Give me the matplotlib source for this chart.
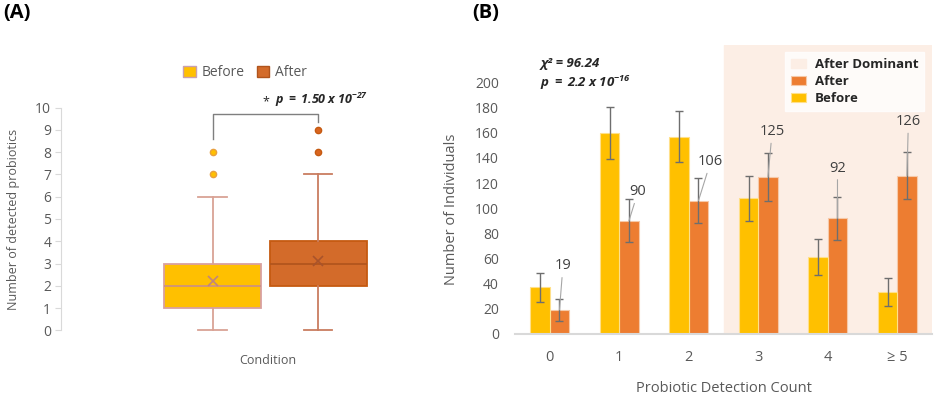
import numpy as np
import matplotlib
matplotlib.use("Agg")
import matplotlib.pyplot as plt
from matplotlib.patches import Patch

plt.rcParams['font.family'] = ['Open Sans', 'DejaVu Sans']
plt.rcParams['mathtext.fontset'] = 'custom'
plt.rcParams['mathtext.bf'] = 'Open Sans:bold:italic'
plt.rcParams['mathtext.it'] = 'Open Sans:bold:italic'
plt.rcParams['mathtext.rm'] = 'Open Sans:bold:italic'

# ---- panel A : box plot summary ----
conditions = ['Before', 'After']
box_q1 = [1, 2]
box_med = [2, 3]
box_q3 = [3, 4]
box_lo = [0, 0]
box_hi = [6, 7]
box_mean = [2.2, 3.1]
box_fliers = [[7, 8], [8, 9]]

# ---- panel B : detection counts ----
categories = ['0', '1', '2', '3', '4', '≥ 5']
before_n = [37, 160, 157, 108, 61, 33]
after_n = [19, 90, 106, 125, 92, 126]
before_err = [11.5, 21, 20.5, 18, 14.5, 11]
after_err = [8.5, 17, 18, 19, 17, 19]

# label placement for the "After" values (offset in x, label height)
lab_dx = [0.05, 0.13, 0.175, 0.06, 0.0, 0.02]
lab_y = [54, 113, 137, 161, 132, 169]

grey = '#595959'
yellow = '#FFC000'
orange = '#ED7D31'

fig = plt.figure(figsize=(9.36, 3.97), dpi=100)

# ================= (A) =================
axA = fig.add_axes([61/936, 66.7/397, 379/936, 222.6/397])
box_style = [
    dict(face=yellow, edge='#D9A0A0', med='#C98F88', whisk='#D9A295',
         mean='#C0857E', fface=yellow, fedge='#E8A040'),
    dict(face='#D36B2A', edge='#C55A11', med='#B0541C', whisk='#C97D60',
         mean='#A9532A', fface='#D9651F', fedge='#C55A11'),
]
for i, c in enumerate(conditions):
    st = box_style[i]
    stats = [dict(med=box_med[i], q1=box_q1[i], q3=box_q3[i],
                  whislo=box_lo[i], whishi=box_hi[i], mean=box_mean[i],
                  fliers=box_fliers[i], label=c)]
    parts = axA.bxp(stats, positions=[i + 1], widths=0.917, capwidths=0.265,
                    showmeans=True, patch_artist=True,
                    boxprops=dict(facecolor=st['face'], edgecolor=st['edge'], linewidth=1.3),
                    medianprops=dict(color=st['med'], linewidth=1.2),
                    whiskerprops=dict(color=st['whisk'], linewidth=1.3),
                    capprops=dict(color=st['whisk'], linewidth=1.3),
                    meanprops=dict(marker='x', markeredgecolor=st['mean'], markersize=7,
                                   markeredgewidth=1.2),
                    flierprops=dict(marker='o', markerfacecolor=st['fface'],
                                    markeredgecolor=st['fedge'], markersize=4.5))
    for k in parts:
        for a in parts[k]:
            a.set_clip_on(False)

axA.set_xlim(-0.432, 3.15)
axA.set_ylim(0, 10)
axA.set_yticks(range(0, 11))
axA.set_xticks([])
for s in ['top', 'right', 'bottom']:
    axA.spines[s].set_visible(False)
axA.spines['left'].set_color('#D9D9D9')
axA.tick_params(axis='y', colors='#D9D9D9', labelcolor=grey, labelsize=10,
                length=4, pad=3)
axA.set_ylabel('Number of detected probiotics', fontsize=9, color=grey)
axA.yaxis.set_label_coords(-0.107, 0.5)
axA.set_xlabel('Condition', fontsize=9, color=grey)
axA.xaxis.set_label_coords(0.546, -0.105)

# significance bracket
axA.plot([1, 1, 2, 2], [8.6, 9.72, 9.72, 9.35], color='#7F7F7F', lw=1, clip_on=False)
axA.text(1.5, 10.28, '*', fontsize=9, color='#262626', ha='center', va='center')
axA.text(1.59, 10.35, r'$\mathbf{p\;=\;1.50\;x\;10^{-27}}$', fontsize=9,
         color='#262626', ha='left', va='center')

fig.legend(handles=[Patch(facecolor=yellow, edgecolor='#C9A0B0', label='Before'),
                    Patch(facecolor='#D36B2A', edgecolor='#B0541C', label='After')],
           loc='center', bbox_to_anchor=(245/936, 1 - 73/397), ncol=2, frameon=False,
           fontsize=10, handlelength=0.9, handleheight=0.9, handletextpad=0.4,
           columnspacing=0.9, labelcolor=grey)

# ================= (B) =================
axB = fig.add_axes([515/936, 63.3/397, 417/936, 288.7/397])
x = np.arange(len(categories))
w = 0.28
span = axB.axvspan(2.5, 5.5, ymin=0, ymax=1, color='#FCEEE5', zorder=0,
                   label='After Dominant')
bA = axB.bar(x + w/2, after_n, w, color=orange, edgecolor='#F6C9A8', linewidth=0.8,
             label='After', zorder=2)
bB = axB.bar(x - w/2, before_n, w, color=yellow, edgecolor='#FFE08A', linewidth=0.8,
             label='Before', zorder=2)
axB.errorbar(x - w/2, before_n, yerr=before_err, fmt='none', ecolor='#6E6E6E',
             elinewidth=1, capsize=3, capthick=1, zorder=3)
axB.errorbar(x + w/2, after_n, yerr=after_err, fmt='none', ecolor='#6E6E6E',
             elinewidth=1, capsize=3, capthick=1, zorder=3)

for i, v in enumerate(after_n):
    axB.annotate(str(v), xy=(x[i] + w/2, v), xytext=(x[i] + w/2 + lab_dx[i], lab_y[i]),
                 ha='center', va='center', fontsize=10.5, color='#404040',
                 arrowprops=dict(arrowstyle='-', color='#A6A6A6', lw=0.8,
                                 shrinkA=1, shrinkB=0), zorder=4)

axB.set_xlim(-0.5, 5.5)
axB.set_ylim(0, 230)
axB.set_yticks(range(0, 201, 20))
axB.set_xticks(x)
axB.set_xticklabels(categories)
for s in ['top', 'right', 'left']:
    axB.spines[s].set_visible(False)
axB.spines['bottom'].set_color('#D9D9D9')
axB.spines['bottom'].set_linewidth(1.5)
axB.tick_params(axis='y', length=0, pad=11.5, labelsize=10, labelcolor=grey)
axB.tick_params(axis='x', length=0, pad=12, labelsize=10.5, labelcolor=grey)
axB.set_ylabel('Number of Individuals', fontsize=10.5, color=grey)
axB.yaxis.set_label_coords(-0.134, 0.43)
axB.set_xlabel('Probiotic Detection Count', fontsize=10.5, color=grey)
axB.xaxis.set_label_coords(0.5, -0.165)

axB.text(-0.135, 215, 'χ² = 96.24', fontsize=9.5, fontweight='bold', style='italic',
         color='#262626', ha='left', va='center')
axB.text(-0.135, 200, r'$\mathbf{p\;=\;2.2\;x\;10^{-16}}$', fontsize=9.5,
         color='#262626', ha='left', va='center')

leg = axB.legend(handles=[span, bA, bB], loc='upper right',
                 bbox_to_anchor=(0.9815, 0.9747), borderaxespad=0, fontsize=9.5,
                 frameon=True, fancybox=False, handlelength=1.1, handleheight=0.6,
                 handletextpad=0.7, labelspacing=0.3, borderpad=0.45)
leg.get_frame().set_facecolor('white')
leg.get_frame().set_edgecolor('white')
for t in leg.get_texts():
    t.set_fontweight('bold')
    t.set_color('#262626')

fig.text(3/936, 1 - 13/397, '(A)', fontsize=14.5, fontweight='bold', va='center')
fig.text(472/936, 1 - 13/397, '(B)', fontsize=14.5, fontweight='bold', va='center')

fig.savefig('out.png', dpi=100)
